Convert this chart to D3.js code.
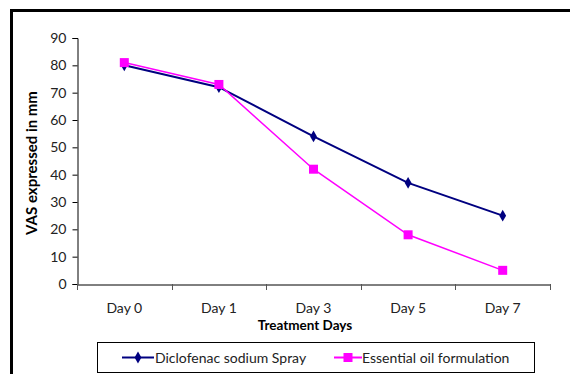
<!DOCTYPE html>
<html><head><meta charset="utf-8">
<script src="https://cdn.jsdelivr.net/npm/d3@7"></script>
<style>body{margin:0;background:#fff}svg{display:block}text{font-family:Lato,"Open Sans",sans-serif}</style>
</head><body>
<svg id="c" width="570" height="374"></svg>
<script>
const categories = ["Day 0","Day 1","Day 3","Day 5","Day 7"];
const diclofenac = [80, 72, 54, 37, 25];
const essentialOil = [81, 73, 42, 18, 5];
const yTicks = [0,10,20,30,40,50,60,70,80,90];
const seriesNames = ["Diclofenac sodium Spray","Essential oil formulation"];

const svg = d3.select("#c");
svg.append("line").attr("x1",11.5).attr("x2",570).attr("y1",10.5).attr("y2",10.5).attr("stroke","#000").attr("stroke-width",3);
svg.append("line").attr("x1",11.5).attr("x2",11.5).attr("y1",9).attr("y2",374).attr("stroke","#000").attr("stroke-width",3);

const x = d3.scaleBand().domain(categories).range([77,550]);
const y = d3.scaleLinear().domain([0,90]).range([284,38]);

const yAxis = svg.append("g").attr("transform","translate(77.5,0)")
  .call(d3.axisLeft(y).tickValues(yTicks).tickSize(5).tickPadding(6));
yAxis.select(".domain").attr("stroke","#000");
yAxis.selectAll("text").attr("font-size",14).attr("fill","#222");

const xAxis = svg.append("g").attr("transform","translate(0,284.5)")
  .call(d3.axisBottom(x).tickSize(0).tickPadding(19));
xAxis.select(".domain").attr("stroke","#000");
xAxis.selectAll("text").attr("font-size",14).attr("fill","#222");
const bounds = categories.map(c=>x(c)).concat([x.range()[1]]);
svg.append("g").selectAll("line").data(bounds).join("line")
  .attr("x1",d=>Math.round(d)+0.5).attr("x2",d=>Math.round(d)+0.5)
  .attr("y1",284).attr("y2",290).attr("stroke","#555");

svg.append("text").attr("x",305).attr("y",330).attr("text-anchor","middle")
  .attr("font-size",13.5).attr("font-weight","bold").text("Treatment Days");
svg.append("text").attr("transform","translate(37,163) rotate(-90)").attr("text-anchor","middle")
  .attr("font-size",15).attr("font-weight","bold").text("VAS expressed in mm");

const cx = c => x(c) + x.bandwidth()/2;
const line = d3.line().x((d,i)=>cx(categories[i])).y(d=>y(d));

svg.append("path").datum(diclofenac).attr("d",line).attr("fill","none").attr("stroke","#000080").attr("stroke-width",2);
svg.append("path").datum(essentialOil).attr("d",line).attr("fill","none").attr("stroke","#FF00FF").attr("stroke-width",1.5);

const diamond = d3.symbol().type(d3.symbolDiamond).size(40);
svg.append("g").selectAll("path").data(diclofenac).join("path")
  .attr("d",diamond).attr("transform",(d,i)=>`translate(${cx(categories[i])},${y(d)})`).attr("fill","#000080");
svg.append("g").selectAll("rect").data(essentialOil).join("rect")
  .attr("x",(d,i)=>cx(categories[i])-4.5).attr("y",d=>y(d)-4.5).attr("width",9).attr("height",9).attr("fill","#FF00FF");

const lg = svg.append("g");
lg.append("rect").attr("x",97.5).attr("y",342.5).attr("width",437).attr("height",30).attr("fill","#fff").attr("stroke","#000");
const ly = 357.5;
lg.append("line").attr("x1",122).attr("x2",154).attr("y1",ly).attr("y2",ly).attr("stroke","#000080").attr("stroke-width",2);
lg.append("path").attr("d",diamond).attr("transform",`translate(138,${ly})`).attr("fill","#000080");
lg.append("text").attr("x",155).attr("y",ly+5).attr("font-size",14).attr("fill","#222").text(seriesNames[0]);
lg.append("line").attr("x1",334).attr("x2",362).attr("y1",ly).attr("y2",ly).attr("stroke","#FF00FF").attr("stroke-width",2);
lg.append("rect").attr("x",343.5).attr("y",ly-4.5).attr("width",9).attr("height",9).attr("fill","#FF00FF");
lg.append("text").attr("x",362).attr("y",ly+5).attr("font-size",14).attr("fill","#222").text(seriesNames[1]);
</script>
</body></html>
